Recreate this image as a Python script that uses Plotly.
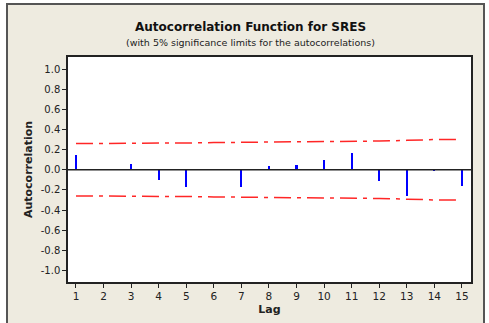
import plotly.graph_objects as go

lags = list(range(1, 16))
acf = [0.142, 0.0, 0.06, -0.10, -0.17, 0.005, -0.17, 0.033, 0.043, 0.093, 0.163, -0.11, -0.26, -0.01, -0.16]
upper = [0.260, 0.260, 0.261, 0.262, 0.266, 0.270, 0.272, 0.276, 0.278, 0.278, 0.281, 0.285, 0.292, 0.300, 0.300]
lower = [-v for v in upper]
ytick_vals = [1.0, 0.8, 0.6, 0.4, 0.2, 0.0, -0.2, -0.4, -0.6, -0.8, -1.0]
ytick_text = ["1.0", "0.8", "0.6", "0.4", "0.2", "0.0", "-0.2", "-0.4", "-0.6", "-0.8", "-1.0"]
xtick_text = [str(v) for v in lags]

fig = go.Figure()
fig.add_trace(go.Bar(x=lags, y=acf, width=0.075, marker=dict(color="#0000FF", line=dict(width=0)), showlegend=False))
for lim in (upper, lower):
    fig.add_trace(go.Scatter(x=lags, y=lim, mode="lines",
                             line=dict(color="rgba(255,0,0,0.85)", width=1.5, dash="17px,6px,4px,6px"),
                             showlegend=False))

fig.add_shape(type="line", xref="paper", yref="y", x0=0, x1=1, y0=0, y1=0,
              line=dict(color="#222222", width=1.5), layer="above")

# outer beige panel with dark border
fig.add_shape(type="rect", xref="paper", yref="paper",
              x0=(7 - 68) / 403, x1=(484 - 68) / 403, y0=(41 - 340) / 225, y1=(323 - 4 - 41) / 225,
              line=dict(color="#555555", width=2), fillcolor="#EEEBE0", layer="below")
# white plotting area on top of the panel
fig.add_shape(type="rect", xref="paper", yref="paper", x0=0, x1=1, y0=0, y1=1,
              line=dict(width=0), fillcolor="white", layer="below")

font_family = "DejaVu Sans, Verdana, sans-serif"
fig.update_layout(
    width=489, height=323, autosize=False,
    margin=dict(l=68, r=18, t=57, b=41, autoexpand=False),
    paper_bgcolor="white", plot_bgcolor="white",
    font=dict(family=font_family, size=10, color="#222222"),
    bargap=0,
    annotations=[
        dict(text="<b>Autocorrelation Function for SRES</b>", xref="paper", yref="paper",
             x=(250 - 68) / 403, y=1 + (57 - 27) / 225, showarrow=False,
             font=dict(size=12, color="#111111"), xanchor="center", yanchor="middle"),
        dict(text="(with 5% significance limits for the autocorrelations)", xref="paper", yref="paper",
             x=(250 - 68) / 403, y=1 + (57 - 42) / 225, showarrow=False,
             font=dict(size=9.5, color="#222222"), xanchor="center", yanchor="middle"),
    ],
)
fig.update_xaxes(range=[0.71, 15.33], tickvals=lags, ticktext=xtick_text, automargin=False,
                 ticks="outside", ticklen=4, tickcolor="#222222", tickwidth=1,
                 showgrid=False, zeroline=False, showline=True, linecolor="#222222", linewidth=1.5,
                 mirror=True, tickfont=dict(size=10.5),
                 title=dict(text="<b>Lag</b>", font=dict(size=11), standoff=4))
fig.update_yaxes(range=[-1.115, 1.12], tickvals=ytick_vals, ticktext=ytick_text, automargin=False,
                 ticks="outside", ticklen=4, tickcolor="#222222", tickwidth=1,
                 showgrid=False, zeroline=False, showline=True, linecolor="#222222", linewidth=1.5,
                 mirror=True, tickfont=dict(size=10),
                 title=dict(text="<b>Autocorrelation</b>", font=dict(size=11), standoff=6))

fig.write_html("out.html", config={"displayModeBar": False},
               post_script="document.body.style.margin='0px';document.body.style.overflow='hidden';")
